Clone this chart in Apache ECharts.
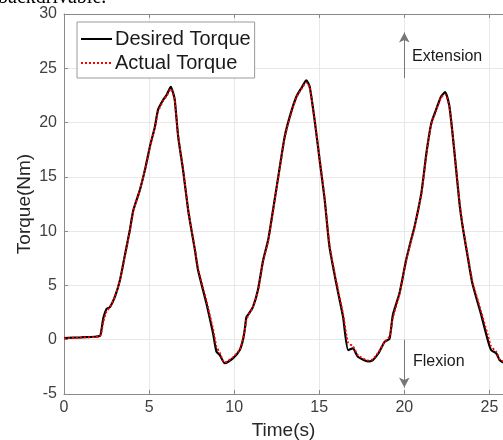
<!DOCTYPE html>
<html><head><meta charset="utf-8">
<script src="https://cdn.jsdelivr.net/npm/echarts@6/dist/echarts.min.js"></script>
<style>html,body{margin:0;padding:0;background:#fff;}#c{width:503px;height:440px;}</style>
</head><body><div id="c"></div>
<script>
const times = [0,1.0,2.1,2.2,2.31,2.5,2.7,3.0,3.29,3.58,3.87,4.07,4.46,4.75,5.05,5.34,5.53,5.83,6.05,6.28,6.4,6.51,6.71,7.0,7.3,7.49,7.69,7.88,8.37,8.76,8.96,9.15,9.45,9.94,10.33,10.52,10.62,10.72,10.82,11.1,11.4,11.7,12.0,12.28,12.68,12.97,13.26,13.66,14.0,14.24,14.44,14.73,15.02,15.32,15.6,16.0,16.4,16.7,16.98,17.27,17.86,18.15,18.5,18.84,19.13,19.33,19.72,20.1,20.4,20.6,21.0,21.3,21.58,21.87,22.16,22.4,22.65,22.95,23.24,23.43,23.73,24.0,24.5,24.9,25.1,25.4,25.6,25.8];
const desired = [0.15,0.22,0.34,0.9,1.97,2.83,3.0,4.0,5.5,7.8,10.1,11.9,13.8,15.6,17.8,19.6,21.2,22.1,22.6,23.3,22.8,22.1,18.7,15.6,11.9,10.1,8.3,6.4,3.35,0.6,-1.1,-1.4,-2.17,-1.7,-0.95,0,0.9,2.1,2.3,3.0,4.6,7.3,9.2,11.9,15.9,18.7,20.5,22.4,23.3,23.9,23.3,20.2,16.6,12.9,8.6,5.2,2.1,-0.95,-0.8,-1.57,-2.0,-1.87,-1.2,-0.2,0.1,2.3,4.3,7.3,9.2,10.4,13.5,17.2,19.9,21.2,22.4,22.8,21.5,17.2,12.6,10.4,7.6,5.2,2.4,0,-0.95,-1.25,-1.87,-2.1];
const actual = [0.12,0.2,0.3,0.7,1.6,2.6,3.0,4.0,5.5,7.7,10.0,11.8,13.8,15.6,17.7,19.5,21.0,22.0,22.5,23.1,22.7,22.0,18.8,15.7,12.0,10.2,8.4,6.6,3.6,1.0,-0.6,-1.2,-2.1,-1.6,-0.9,0.1,0.8,1.8,2.2,3.0,4.5,7.2,9.1,11.8,15.8,18.6,20.4,22.3,23.2,23.7,23.2,20.3,16.7,13.0,8.8,5.4,2.4,-0.3,-0.6,-1.4,-1.9,-1.8,-1.1,-0.2,0.3,2.0,4.2,7.2,9.1,10.3,13.4,17.1,19.8,21.1,22.3,22.6,21.4,17.3,12.8,10.5,7.8,5.4,2.7,0.5,-0.6,-1.1,-1.8,-2.0];
const xTicks = [0,5,10,15,20,25];
const yTicks = [-5,0,5,10,15,20,25,30];

const pair = (vals) => times.map((t,i)=>[t, vals[i]]);
const chart = echarts.init(document.getElementById('c'), null, {renderer:'canvas'});
const tickColor = '#404040';
const font = 'Liberation Sans, Arial, sans-serif';
chart.setOption({
  animation:false,
  backgroundColor:'#fff',
  grid:{left:64, top:14, right:0, bottom:46, containLabel:false, outerBoundsMode:'none'},
  xAxis:[{
    type:'value', min:0, max:25.8, interval:5,
    name:'Time(s)', nameLocation:'middle', nameGap:27,
    nameTextStyle:{fontFamily:font, fontSize:19, color:'#262626'},
    axisLine:{show:true, onZero:false, lineStyle:{color:'#8a8a8a', width:1}},
    axisTick:{show:true, inside:true, length:4, lineStyle:{color:'#8a8a8a'}},
    axisLabel:{fontFamily:font, fontSize:16, color:tickColor, margin:6, showMaxLabel:false,
      formatter:(v)=> xTicks.includes(v)? String(v):''},
    splitLine:{show:true, lineStyle:{color:'#e8e8e8', width:1}}
  },{
    type:'value', position:'top', min:0, max:25.8, interval:5,
    axisLine:{show:true, onZero:false, lineStyle:{color:'#8a8a8a', width:1}},
    axisTick:{show:true, inside:true, length:4, lineStyle:{color:'#8a8a8a'}},
    axisLabel:{show:false}, splitLine:{show:false}
  }],
  yAxis:{
    type:'value', min:-5, max:30, interval:5,
    name:'Torque(Nm)', nameLocation:'middle', nameGap:30, nameMoveOverlap:false,
    nameTextStyle:{fontFamily:font, fontSize:19, color:'#262626'},
    axisLine:{show:true, onZero:false, lineStyle:{color:'#8a8a8a', width:1}},
    axisTick:{show:true, inside:true, length:4, lineStyle:{color:'#8a8a8a'}},
    axisLabel:{fontFamily:font, fontSize:16, color:tickColor, margin:7,
      formatter:(v)=> yTicks.includes(v)? String(v):''},
    splitLine:{show:true, lineStyle:{color:'#e8e8e8', width:1}}
  },
  legend:{
    left:77, top:22, orient:'vertical', itemWidth:31, itemHeight:19, itemGap:4,
    itemStyle:{opacity:0, color:'transparent', borderWidth:0},
    padding:[7,4,5,3], borderColor:'#9a9a9a', borderWidth:1, backgroundColor:'#fff',
    textStyle:{fontFamily:font, fontSize:20, color:'#1a1a1a', padding:[0,0,0,-2]},
    data:['Desired Torque','Actual Torque']
  },
  series:[
    {name:'Desired Torque', type:'line', data:pair(desired), showSymbol:false, symbol:'none', smooth:0.2,
     lineStyle:{color:'#000', width:2.2}, itemStyle:{color:'#000'}, z:2,
     markLine:{silent:true, symbol:['none','arrow'], symbolSize:[8,10],
       lineStyle:{color:'#000', width:1, type:'solid'}, label:{show:false},
       data:[
         [{coord:[20,24.1], lineStyle:{color:'#777'}},{coord:[20,28.3]}],
         [{coord:[20,0.0], lineStyle:{color:'#777'}},{coord:[20,-4.4]}]
       ]}
    },
    {name:'Actual Torque', type:'line', data:pair(actual), showSymbol:false, symbol:'none', smooth:0.2,
     lineStyle:{color:'#ff0000', width:1.8, type:[2,2]}, itemStyle:{color:'#ff0000'}, z:3}
  ],
  graphic:[
    {type:'text', left:412, top:49, style:{text:'Extension', font:'16px Liberation Sans, Arial, sans-serif', fill:'#1a1a1a'}},
    {type:'text', left:413, top:354, style:{text:'Flexion', font:'16px Liberation Sans, Arial, sans-serif', fill:'#1a1a1a'}},
    {type:'text', left:-2, top:-12, style:{text:'backdrivable.', font:'20px Liberation Serif, serif', fill:'#000'}}
  ]
});
</script></body></html>
